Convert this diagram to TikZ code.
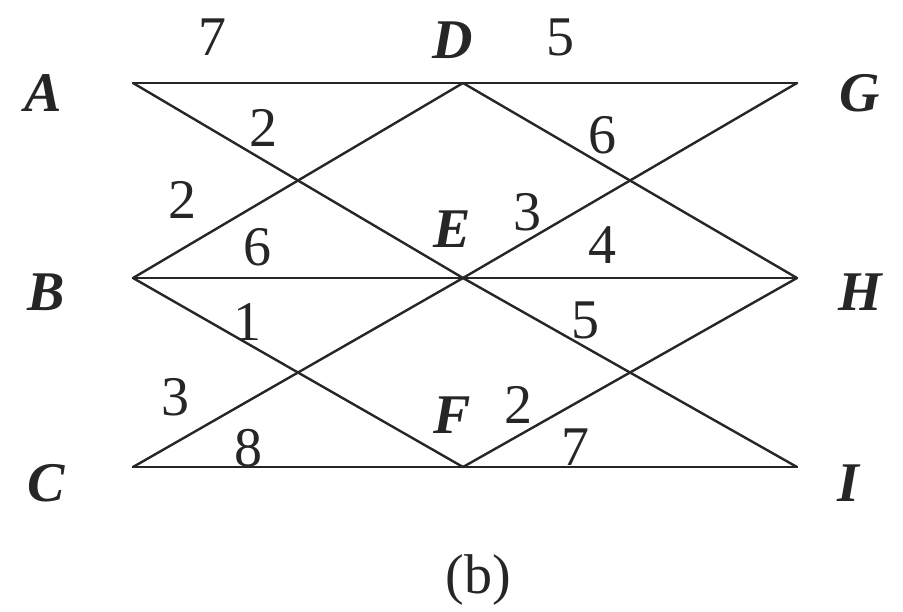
\documentclass[tikz,border=0pt]{standalone}
\usepackage{fontspec}
\setmainfont{Liberation Serif}
\tikzset{
  edge/.style={draw=black!85, line width=1.2pt, line cap=round, line join=round},
  vert/.style={font=\fontsize{28}{30}\selectfont\bfseries\itshape, text=black!85, inner sep=0pt},
  wgt/.style={font=\fontsize{28}{30}\selectfont, text=black!85, inner sep=0pt},
  capt/.style={font=\fontsize{28}{30}\selectfont, text=black!85, inner sep=0pt}
}

\begin{document}
\begin{tikzpicture}[x=0.5pt, y=-0.5pt]
  \useasboundingbox (0,0) rectangle (903,611);
  % graph vertices
  \coordinate (A) at (133,83);  \coordinate (D) at (463,83);  \coordinate (G) at (797,83);
  \coordinate (B) at (133,278); \coordinate (E) at (463,278); \coordinate (H) at (797,278);
  \coordinate (C) at (133,467); \coordinate (F) at (463,467); \coordinate (I) at (797,467);
  \foreach \p/\q in {A/D,A/E,B/D,B/E,B/F,C/E,C/F,D/G,D/H,E/G,E/H,E/I,F/H,F/I}
    \draw[edge] (\p) -- (\q);
  % vertex names
  \node[vert] (nA) at (43,93) {A};
  \node[vert] (nB) at (46,292) {B};
  \node[vert] (nC) at (46,483) {C};
  \node[vert] (nD) at (453,40) {D};
  \node[vert] (nE) at (452,229) {E};
  \node[vert] (nF) at (452,415) {F};
  \node[vert] (nG) at (860,93) {G};
  \node[vert] (nH) at (860,292) {H};
  \node[vert] (nI) at (848,483) {I};
  % edge weights
  \node[wgt] (wAD) at (212,37) {7};
  \node[wgt] (wAE) at (263,128) {2};
  \node[wgt] (wBD) at (182,200) {2};
  \node[wgt] (wBE) at (257,247) {6};
  \node[wgt] (wBF) at (247,322) {1};
  \node[wgt] (wCE) at (175,397) {3};
  \node[wgt] (wCF) at (248,448) {8};
  \node[wgt] (wDG) at (560,37) {5};
  \node[wgt] (wDH) at (602,135) {6};
  \node[wgt] (wEG) at (527,212) {3};
  \node[wgt] (wEH) at (602,245) {4};
  \node[wgt] (wEI) at (585,320) {5};
  \node[wgt] (wFH) at (518,405) {2};
  \node[wgt] (wFI) at (575,447) {7};
  \node[capt] (cap) at (478,580) {(b)};
\end{tikzpicture}
\end{document}
